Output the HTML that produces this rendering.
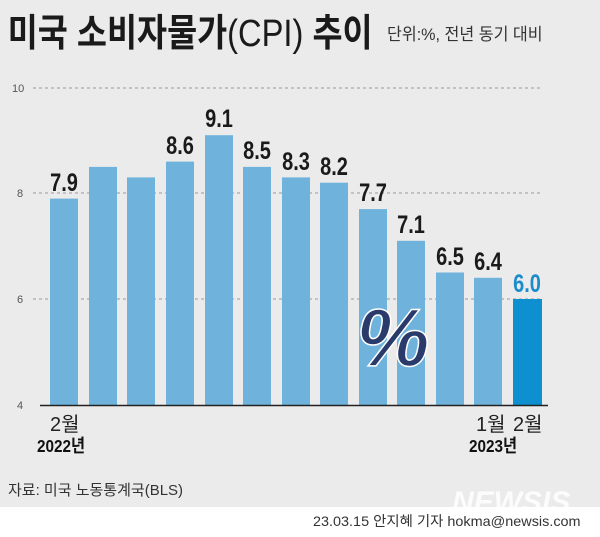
<!DOCTYPE html>
<html><head><meta charset="utf-8"><style>
body{margin:0;width:600px;height:532px;overflow:hidden;background:#fff;font-family:"Liberation Sans","Noto Sans CJK KR",sans-serif;}
</style></head><body>
<svg width="600" height="532" xmlns="http://www.w3.org/2000/svg" font-family="Liberation Sans, Noto Sans CJK KR, sans-serif">
<rect x="0" y="0" width="600" height="507" fill="#ebebeb"/>
<text x="9" y="46" font-size="38" font-weight="bold" fill="#1a1a1a" transform="scale(0.86,1)">미국 소비자물가<tspan font-weight="normal">(CPI)</tspan> 추이</text>
<text x="387" y="40" font-size="17" fill="#333" transform="translate(387,0) scale(0.95,1) translate(-387,0)">단위:%, 전년 동기 대비</text>
<g stroke="#999" stroke-dasharray="3,3" stroke-width="1">
<line x1="33" y1="88" x2="543" y2="88"/>
<line x1="33" y1="193" x2="543" y2="193"/>
<line x1="33" y1="299" x2="543" y2="299"/>
</g>
<g font-size="11" fill="#555">
<text x="12" y="92">10</text><text x="17" y="197">8</text><text x="17" y="303">6</text><text x="17" y="409">4</text>
</g>
<g fill="#6fb3dd">
<rect x="50" y="198.6" width="28" height="206.4"/>
<rect x="89" y="166.9" width="28" height="238.1"/>
<rect x="127" y="177.4" width="28" height="227.6"/>
<rect x="166" y="161.6" width="28" height="243.4"/>
<rect x="205" y="135.2" width="28" height="269.8"/>
<rect x="243" y="166.9" width="28" height="238.1"/>
<rect x="282" y="177.4" width="28" height="227.6"/>
<rect x="320" y="182.7" width="28" height="222.3"/>
<rect x="359" y="209.1" width="28" height="195.9"/>
<rect x="397" y="240.8" width="28" height="164.2"/>
<rect x="436" y="272.5" width="28" height="132.5"/>
<rect x="474" y="277.8" width="28" height="127.2"/>
</g>
<rect x="513" y="299" width="29" height="106" fill="#0e8fd0"/>
<line x1="40" y1="405.5" x2="548" y2="405.5" stroke="#222" stroke-width="1.5"/>
<g font-size="25" font-weight="bold" fill="#1a1a1a" text-anchor="middle">
<text x="64" y="191" transform="translate(64,0) scale(0.8,1) translate(-64,0)">7.9</text>
<text x="180" y="154" transform="translate(180,0) scale(0.8,1) translate(-180,0)">8.6</text>
<text x="219" y="127" transform="translate(219,0) scale(0.8,1) translate(-219,0)">9.1</text>
<text x="257" y="159" transform="translate(257,0) scale(0.8,1) translate(-257,0)">8.5</text>
<text x="296" y="170" transform="translate(296,0) scale(0.8,1) translate(-296,0)">8.3</text>
<text x="334" y="175" transform="translate(334,0) scale(0.8,1) translate(-334,0)">8.2</text>
<text x="373" y="201" transform="translate(373,0) scale(0.8,1) translate(-373,0)">7.7</text>
<text x="411" y="233" transform="translate(411,0) scale(0.8,1) translate(-411,0)">7.1</text>
<text x="450" y="265" transform="translate(450,0) scale(0.8,1) translate(-450,0)">6.5</text>
<text x="488" y="270" transform="translate(488,0) scale(0.8,1) translate(-488,0)">6.4</text>
<text x="527" y="292" fill="#1a8ccc" transform="translate(527,0) scale(0.8,1) translate(-527,0)">6.0</text>
</g>
<text x="393" y="366" font-size="82" font-weight="bold" font-style="italic" fill="#2a3a6a" text-anchor="middle" stroke="#fff" stroke-width="1.5">%</text>
<g font-size="20" fill="#222">
<text x="50" y="431">2월</text>
<text x="476" y="431">1월</text><text x="513" y="431">2월</text>
</g>
<g font-size="18" font-weight="bold" fill="#111">
<text x="37" y="452" transform="translate(37,0) scale(0.85,1) translate(-37,0)">2022년</text>
<text x="469" y="452" transform="translate(469,0) scale(0.85,1) translate(-469,0)">2023년</text>
</g>
<text x="8" y="495" font-size="15" fill="#333">자료:  미국 노동통계국(BLS)</text>
<text x="452" y="512" font-size="30" font-weight="bold" font-style="italic" fill="#fff" opacity="0.85">NEWSIS</text>
<text x="313" y="526" font-size="14" fill="#333" transform="translate(313,0) scale(1.03,1) translate(-313,0)">23.03.15 안지혜 기자 hokma@newsis.com</text>
</svg>
</body></html>
